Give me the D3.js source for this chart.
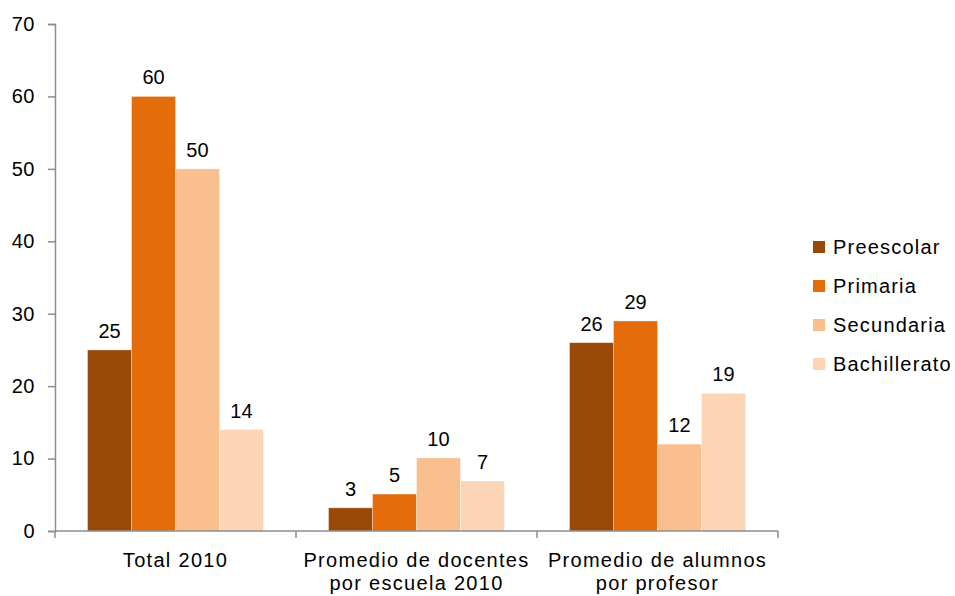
<!DOCTYPE html>
<html>
<head>
<meta charset="utf-8">
<script src="https://cdn.jsdelivr.net/npm/d3@7"></script>
<style>
  body { margin: 0; background: #fff; }
  svg text { font-family: "Liberation Sans", Arial, sans-serif; fill: #000; }
</style>
</head>
<body>
<div id="chart"></div>
<script>
// data
var categories = [["Total 2010"], ["Promedio de docentes", "por escuela 2010"], ["Promedio de alumnos", "por profesor"]];
var series = ["Preescolar", "Primaria", "Secundaria", "Bachillerato"];
var colors = ["#984807", "#E46C0A", "#F9BF8F", "#FBD5B5"];
var preescolar = [25, 3.2, 26];
var primaria = [60, 5.1, 29];
var secundaria = [50, 10.1, 12];
var bachillerato = [14, 6.9, 19];
var yTicks = [0, 10, 20, 30, 40, 50, 60, 70];

var values = [preescolar, primaria, secundaria, bachillerato];

var w = 955, h = 596;
// plot area edges (window.top is reserved, so use other names)
var plotLeft = 55, plotRight = 778, plotTop = 24, plotBottom = 531;

var svg = d3.select("#chart").append("svg")
  .attr("width", w)
  .attr("height", h);

var x0 = d3.scaleBand().domain(d3.range(categories.length)).range([plotLeft, plotRight]);
var x1 = d3.scaleBand().domain(d3.range(series.length)).range([0, x0.bandwidth()]).paddingOuter(0.74);
var y = d3.scaleLinear().domain([0, 70]).range([plotBottom, plotTop]);

// y axis
var yAxis = svg.append("g")
  .attr("transform", "translate(" + plotLeft + ",0)")
  .call(d3.axisLeft(y).tickValues(yTicks).tickSize(7).tickPadding(13));
yAxis.selectAll("path, line").attr("stroke", "#8c8c8c").attr("stroke-width", 1.5);
yAxis.selectAll("text")
  .attr("font-size", "20px")
  .style("letter-spacing", "0.5px")
  .attr("fill", "#000");

// bars
var groups = svg.selectAll("g.cat")
  .data(categories)
  .enter().append("g")
  .attr("class", "cat")
  .attr("transform", function(d, i) { return "translate(" + x0(i) + ",0)"; });

groups.each(function(c, ci) {
  var g = d3.select(this);
  var pts = series.map(function(s, si) { return { si: si, v: values[si][ci] }; });
  g.selectAll("rect")
    .data(pts)
    .enter().append("rect")
    .attr("x", function(d) { return x1(d.si); })
    .attr("y", function(d) { return y(d.v); })
    .attr("width", x1.bandwidth())
    .attr("height", function(d) { return plotBottom - y(d.v); })
    .attr("fill", function(d) { return colors[d.si]; })
    .attr("stroke", "#fff")
    .attr("stroke-opacity", 0.4)
    .attr("stroke-width", 0.8);
  g.selectAll("text.val")
    .data(pts)
    .enter().append("text")
    .attr("class", "val")
    .attr("x", function(d) { return x1(d.si) + x1.bandwidth() / 2; })
    .attr("y", function(d) { return y(d.v) - 12; })
    .attr("text-anchor", "middle")
    .attr("font-size", "20px")
    .text(function(d) { return d3.format(".0f")(d.v); });
});

// x axis
var xAxis = svg.append("g")
  .attr("transform", "translate(0," + plotBottom + ")");
xAxis.append("line")
  .attr("x1", plotLeft).attr("x2", plotRight)
  .attr("stroke", "#8c8c8c").attr("stroke-width", 1.5);
xAxis.selectAll("line.tick")
  .data(d3.range(categories.length + 1))
  .enter().append("line")
  .attr("class", "tick")
  .attr("x1", function(i) { return i < categories.length ? x0(i) : plotRight; })
  .attr("x2", function(i) { return i < categories.length ? x0(i) : plotRight; })
  .attr("y1", 0).attr("y2", 7)
  .attr("stroke", "#8c8c8c").attr("stroke-width", 1.5);
xAxis.selectAll("text")
  .data(categories)
  .enter().append("text")
  .attr("text-anchor", "middle")
  .attr("font-size", "20px")
  .style("letter-spacing", "1.3px")
  .attr("transform", function(d, i) { return "translate(" + (x0(i) + x0.bandwidth() / 2) + ",36)"; })
  .selectAll("tspan")
  .data(function(d) { return d; })
  .enter().append("tspan")
  .attr("x", 0)
  .attr("y", function(d, i) { return i * 23; })
  .text(function(d) { return d; });

// legend
var legend = svg.append("g").attr("transform", "translate(813,247)");
var item = legend.selectAll("g")
  .data(series)
  .enter().append("g")
  .attr("transform", function(d, i) { return "translate(0," + (i * 39) + ")"; });
item.append("rect")
  .attr("x", 0).attr("y", -6)
  .attr("width", 12).attr("height", 12)
  .attr("fill", function(d, i) { return colors[i]; });
item.append("text")
  .attr("x", 20).attr("y", 7)
  .attr("font-size", "20px")
  .style("letter-spacing", "1.2px")
  .text(function(d) { return d; });
</script>
</body>
</html>
